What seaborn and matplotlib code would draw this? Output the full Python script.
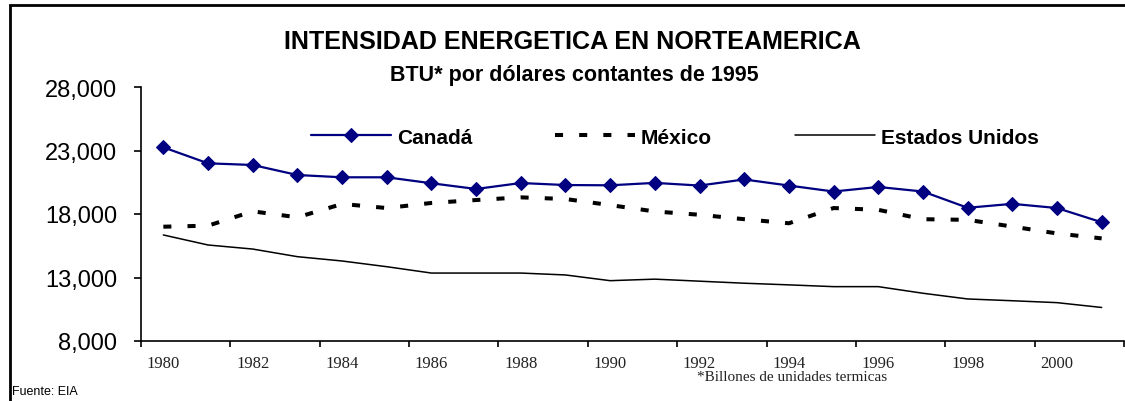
import numpy as np
import pandas as pd
import seaborn as sns
import matplotlib.pyplot as plt
from matplotlib.patches import Rectangle

# datos (BTU por dolar de 1995)
anios = list(range(1980, 2002))
canada = [23250, 21990, 21860, 21070, 20890, 20890, 20420, 19970, 20440, 20280, 20260,
          20450, 20240, 20720, 20240, 19770, 20130, 19770, 18490, 18800, 18470, 17350]
mexico = [17000, 17080, 18210, 17740, 18790, 18470, 18870, 19100, 19310, 19180, 18700,
          18200, 17940, 17590, 17270, 18470, 18330, 17590, 17540, 17010, 16470, 16080]
eeuu = [16350, 15560, 15240, 14640, 14300, 13850, 13350, 13350, 13350, 13200, 12750,
        12870, 12710, 12550, 12420, 12280, 12280, 11760, 11310, 11170, 11020, 10640]

df = pd.DataFrame({"anio": anios, "Canadá": canada, "México": mexico, "Estados Unidos": eeuu})

sns.set_style("white")
plt.rcParams['font.family'] = ['Liberation Sans', 'DejaVu Sans']
plt.rcParams['text.color'] = 'black'
plt.rcParams['xtick.color'] = 'black'
plt.rcParams['ytick.color'] = 'black'

fig = plt.figure(figsize=(11.25, 4.02), dpi=100)
ax = fig.add_axes([141/1125, 1 - 342/402, (1124 - 141)/1125, (342 - 88)/402])

sns.lineplot(data=df, x="anio", y="Canadá", ax=ax, color="#000080", lw=1.6,
             marker="D", markersize=7.5, markeredgecolor="#000080", label="Canadá")
sns.lineplot(data=df, x="anio", y="México", ax=ax, color="black", lw=2.9,
             dashes=False, label="México")
ax.lines[-1].set_dashes((2, 4))
sns.lineplot(data=df, x="anio", y="Estados Unidos", ax=ax, color="black", lw=1.1,
             label="Estados Unidos")

ax.set_xlim(1979.5, 2001.5)
ax.set_ylim(8000, 28000)
ax.set_yticks([8000, 13000, 18000, 23000, 28000])
ax.set_yticklabels([f"{v:,}" for v in [8000, 13000, 18000, 23000, 28000]], fontsize=17)
ax.set_xticks(np.arange(1979.5, 2002, 2))
ax.set_xticklabels([])
ax.set_xticks(range(1980, 2001, 2), minor=True)
ax.set_xticklabels([str(a) for a in range(1980, 2001, 2)], minor=True,
                   fontsize=12, family="Liberation Serif", color="#222222")
ax.tick_params(axis="x", which="major", direction="out", length=4, width=1.2, bottom=True)
ax.tick_params(axis="x", which="minor", length=0, pad=10)
ax.tick_params(axis="y", direction="out", length=5, width=1.2, left=True, pad=12)
ax.set_xlabel("")
ax.set_ylabel("")
for s in ["top", "right"]:
    ax.spines[s].set_visible(False)
for s in ["left", "bottom"]:
    ax.spines[s].set_linewidth(1.2)
    ax.spines[s].set_color("black")
ax.patch.set_alpha(0)

leg = ax.legend(loc="center", bbox_to_anchor=(675/1125, 1 - 138/402), bbox_transform=fig.transFigure,
                ncol=3, frameon=False, prop={"weight": "bold", "size": 15},
                handlelength=3.8, handletextpad=0.3, columnspacing=4.0)

fig.text(572/1125, 1 - 42/402, "INTENSIDAD ENERGETICA EN NORTEAMERICA", ha="center", va="center",
         fontsize=18.1, fontweight="bold")
fig.text(574/1125, 1 - 75/402, "BTU* por dólares contantes de 1995", ha="center", va="center",
         fontsize=15.5, fontweight="bold")
fig.text(697/1125, 1 - 378/402, "*Billones de unidades termicas", ha="left", va="center",
         fontsize=11, family="Liberation Serif", color="#222222")
fig.text(12/1125, 1 - 392/402, "Fuente: EIA", ha="left", va="center", fontsize=9)

fig.patches.append(Rectangle((10/1125, -0.2), 1.5, 1.2 - 6/402, transform=fig.transFigure,
                             fill=False, lw=2, edgecolor="black"))

fig.savefig("out.png", dpi=100)
